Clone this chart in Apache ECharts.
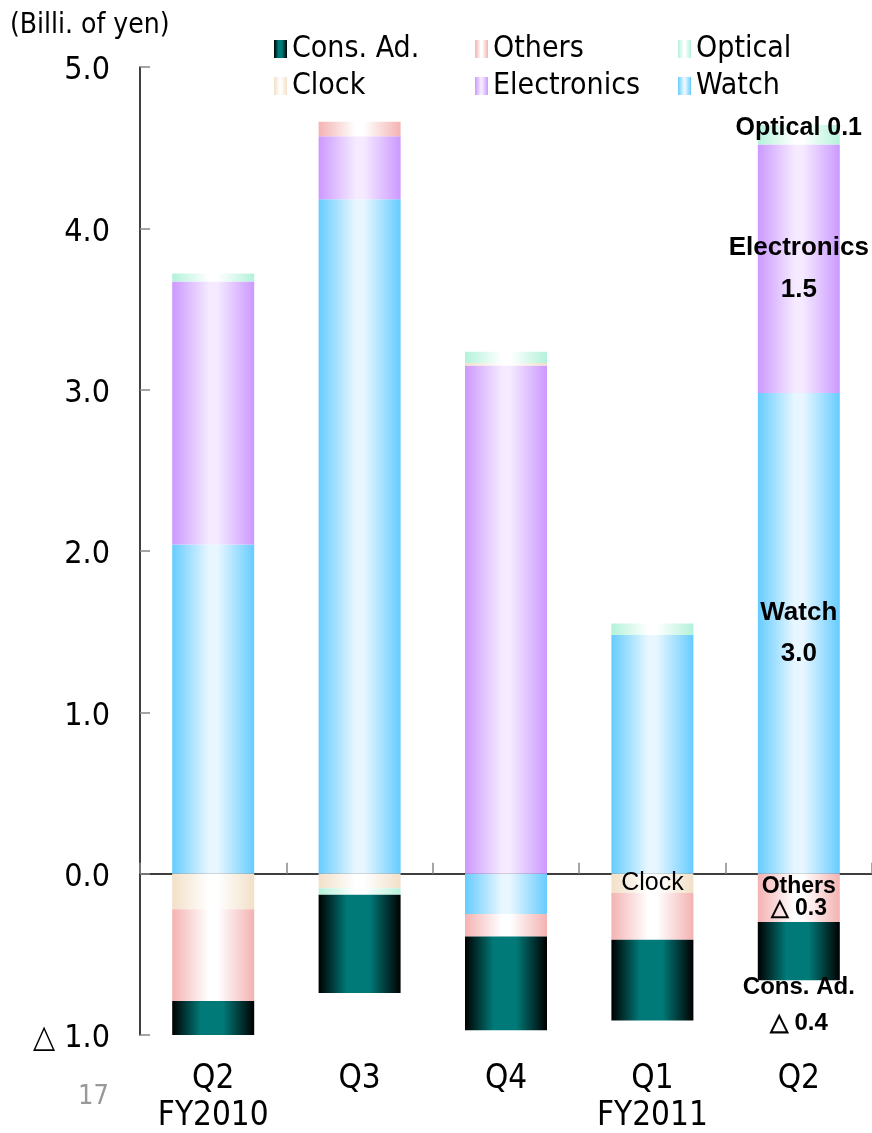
<!DOCTYPE html>
<html>
<head>
<meta charset="utf-8">
<title>Operating income by segment</title>
<script src="https://cdn.jsdelivr.net/npm/echarts@6/dist/echarts.min.js"></script>
<style>
html, body { margin: 0; padding: 0; background: #fff; }
#main { width: 872px; height: 1133px; }
</style>
</head>
<body>
<div id="main"></div>
<script>
// 四半期
var quarters = ['Q2\nFY2010', 'Q3', 'Q4', 'Q1\nFY2011', 'Q2'];
// セグメント別（十億円）
var watch       = [2.04, 4.18, -0.25, 1.48, 2.98];
var electronics = [1.63, 0.39, 3.15, 0, 1.54];
var clock       = [-0.22, -0.09, 0.015, -0.12, 0];
var others      = [-0.57, 0.09, -0.14, -0.29, -0.30];
var optical     = [0.05, -0.04, 0.07, 0.07, 0.12];
var consAd      = [-0.22, -0.61, -0.58, -0.50, -0.36];
// 縦軸
var yMin = -1, yMax = 5, yStep = 1;

var FONT = "'Liberation Sans', Arial, sans-serif";
var NARROW = "'DejaVu Sans Condensed', 'Liberation Sans', sans-serif";

function grad(edge, center, a, b) {
    return new echarts.graphic.LinearGradient(0, 0, 1, 0, [
        { offset: 0, color: edge },
        { offset: a, color: center },
        { offset: b, color: center },
        { offset: 1, color: edge }
    ]);
}
function fmtVal(v) {
    return (v < 0 ? '△ ' : '') + Math.abs(v).toFixed(1);
}
// 指定した棒だけにラベルを付ける
function withLabel(values, idx, label) {
    return values.map(function (v, i) {
        return i === idx ? { value: v, label: label } : v;
    });
}
function boldLabel(opts) {
    var base = {
        show: true,
        position: 'inside',
        color: '#000',
        fontFamily: FONT,
        fontWeight: 'bold',
        fontSize: 24,
        textBorderWidth: 0
    };
    for (var k in opts) base[k] = opts[k];
    return base;
}

var myChart = echarts.init(document.getElementById('main'));

var option = {
    animation: false,
    textStyle: { fontFamily: FONT },
    grid: { left: 140, right: 0, top: 67, bottom: 98, containLabel: false, outerBoundsMode: 'none' },
    graphic: [
        { type: 'text', left: 10, top: 12, style: { text: '(Billi. of yen)', font: '28px ' + NARROW, fill: '#000' } },
        { type: 'text', left: 78, top: 1083, style: { text: '17', font: '27px ' + NARROW, fill: '#999' } }
    ],
    legend: [
        { data: ['Cons. Ad.'], left: 274, top: 33 },
        { data: ['Others'], left: 475, top: 33 },
        { data: ['Optical'], left: 678, top: 33 },
        { data: ['Clock'], left: 274, top: 70 },
        { data: ['Electronics'], left: 475, top: 70 },
        { data: ['Watch'], left: 678, top: 70 }
    ].map(function (l) {
        l.padding = 0;
        l.icon = 'rect';
        l.itemWidth = 13;
        l.itemHeight = 18;
        l.selectedMode = false;
        l.textStyle = { fontSize: 30, lineHeight: 32, color: '#000', fontFamily: NARROW };
        return l;
    }),
    xAxis: [
        {
            type: 'category',
            data: quarters,
            position: 'bottom',
            axisLine: { show: false, onZero: false },
            axisTick: { show: false },
            axisLabel: { interval: 0, margin: 26, fontSize: 33, lineHeight: 37, color: '#000', fontFamily: NARROW }
        },
        {
            type: 'category',
            data: quarters,
            position: 'top',
            axisLine: { show: true, onZero: true, lineStyle: { color: '#000', width: 1.5 } },
            axisTick: { show: true, inside: false, length: 11, lineStyle: { color: '#888', width: 1.5 } },
            axisLabel: { show: false }
        }
    ],
    yAxis: {
        type: 'value',
        min: yMin,
        max: yMax,
        interval: yStep,
        axisLine: { show: true, lineStyle: { color: '#000', width: 1.5 } },
        axisTick: { show: true, inside: true, length: 10, lineStyle: { color: '#888', width: 1.5 } },
        splitLine: { show: false },
        axisLabel: {
            margin: 30,
            fontSize: 32,
            verticalAlign: 'top',
            lineHeight: 8,
            color: '#000',
            fontFamily: NARROW,
            formatter: fmtVal
        }
    },
    series: [
        {
            name: 'Watch', type: 'bar', stack: 'seg', barWidth: 82,
            itemStyle: { color: grad('#66CCFF', '#E8F7FF', 0.45, 0.55) },
            data: withLabel(watch, 4, boldLabel({
                fontSize: 26, lineHeight: 41,
                formatter: function (p) { return 'Watch\n' + fmtVal(p.value); }
            }))
        },
        {
            name: 'Electronics', type: 'bar', stack: 'seg',
            itemStyle: { color: grad('#CC99FF', '#F5EAFF', 0.45, 0.55) },
            data: withLabel(electronics, 4, boldLabel({
                fontSize: 26, lineHeight: 42,
                formatter: function (p) { return 'Electronics\n' + fmtVal(p.value); }
            }))
        },
        {
            name: 'Clock', type: 'bar', stack: 'seg',
            itemStyle: { color: grad('#F2E0C8', '#FFFFFF', 0.45, 0.55) },
            data: withLabel(clock, 3, boldLabel({
                fontWeight: 'normal', fontSize: 25,
                formatter: 'Clock'
            }))
        },
        {
            name: 'Others', type: 'bar', stack: 'seg',
            itemStyle: { color: grad('#F4B2B2', '#FFFFFF', 0.45, 0.55) },
            data: withLabel(others, 4, boldLabel({
                fontSize: 23, lineHeight: 22,
                formatter: function (p) { return 'Others\n' + fmtVal(p.value); }
            }))
        },
        {
            name: 'Optical', type: 'bar', stack: 'seg',
            itemStyle: { color: grad('#B3F2DA', '#FFFFFF', 0.45, 0.55) },
            data: withLabel(optical, 4, boldLabel({
                fontSize: 25, offset: [0, -7],
                formatter: function (p) { return 'Optical ' + fmtVal(p.value); }
            }))
        },
        {
            name: 'Cons. Ad.', type: 'bar', stack: 'seg',
            itemStyle: { color: grad('#000000', '#007A78', 0.35, 0.62) },
            data: withLabel(consAd, 4, boldLabel({
                position: 'bottom', distance: -11,
                fontSize: 24, lineHeight: 36,
                formatter: function (p) { return 'Cons. Ad.\n' + fmtVal(p.value); }
            }))
        }
    ]
};
myChart.setOption(option);
</script>
</body>
</html>
